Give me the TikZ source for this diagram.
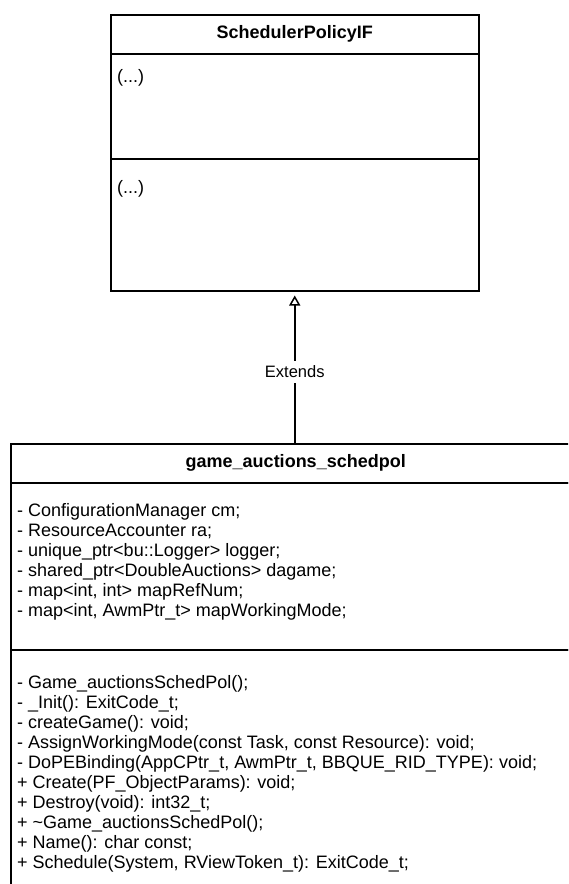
\documentclass[tikz,border=0pt]{standalone}
\usepackage{fontspec}
\setmainfont{Liberation Sans}
\usetikzlibrary{arrows.meta}

\begin{document}
\begin{tikzpicture}[x=1pt,y=-1pt,
  compartment/.style={draw, line width=1.5pt, rectangle, inner sep=0pt, anchor=north west},
  classtitle/.style={font=\fontsize{18}{21.6}\selectfont\bfseries},
  members/.style={font=\fontsize{18}{20}\selectfont, align=left, anchor=north west, inner sep=0pt},
  edgelabel/.style={fill=white, font=\fontsize{16.5}{19.8}\selectfont, inner sep=1pt, minimum height=22pt},
  extends/.style={line width=1.5pt, -{Triangle[open, length=10pt, width=11pt, line width=1.5pt]}, shorten >=4pt}
]
% page area; the lower class runs past the right and bottom edges
\clip (0,0) rectangle (568,884);
\fill[white] (0,0) rectangle (568,884);

% ---- SchedulerPolicyIF ----
\node[compartment, classtitle, minimum width=368pt, minimum height=39pt] (ifhead) at (110,14) {SchedulerPolicyIF};
\node[compartment, minimum width=368pt, minimum height=105pt] (ifattr) at (110,53) {};
\node[compartment, minimum width=368pt, minimum height=132pt] (ifops) at (110,158) {};
\node[members] (ifattrtext) at (117,69) {(...)};
\node[members] (ifopstext) at (117,180) {(...)};

% ---- game_auctions_schedpol ----
\node[compartment, classtitle, minimum width=570pt, minimum height=39pt] (gahead) at (10,443) {game\_auctions\_schedpol};
\node[compartment, minimum width=570pt, minimum height=167pt] (gaattr) at (10,482) {};
\node[compartment, minimum width=570pt, minimum height=300pt] (gaops) at (10,649) {};

\node[members] (gaattrtext) at (17,503) {%
- ConfigurationManager cm;\\
- ResourceAccounter ra;\\
- unique\_ptr<bu::Logger> logger;\\
- shared\_ptr<DoubleAuctions> dagame;\\
- map<int, int> mapRefNum;\\
- map<int, AwmPtr\_t> mapWorkingMode;};

\node[members] (gaopstext) at (17,675) {%
- Game\_auctionsSchedPol();\\
- \_Init(): ExitCode\_t;\\
- createGame(): void;\\
- AssignWorkingMode(const Task, const Resource): void;\\
- DoPEBinding(AppCPtr\_t, AwmPtr\_t, BBQUE\_RID\_TYPE): void;\\
+ Create(PF\_ObjectParams): void;\\
+ Destroy(void): int32\_t;\\
+ \textasciitilde Game\_auctionsSchedPol();\\
+ Name(): char const;\\
+ Schedule(System, RViewToken\_t): ExitCode\_t;};

% ---- generalisation ----
\draw[extends] (gahead.north -| ifops.south) -- node[edgelabel, pos=0.47] (extlabel) {Extends} (ifops.south);

\end{tikzpicture}
\end{document}
